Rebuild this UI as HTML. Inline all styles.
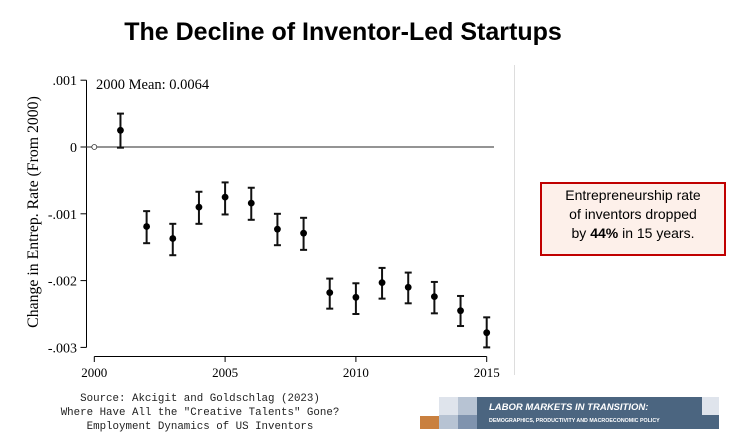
<!DOCTYPE html>
<html><head><meta charset="utf-8"><style>
body{margin:0;width:734px;height:443px;background:#fff;overflow:hidden;position:relative;font-family:"Liberation Sans",sans-serif}
.abs{position:absolute}
</style></head><body>
<div class="abs" style="left:0;width:686px;top:18px;text-align:center;font-weight:bold;font-size:25px;color:#000">The Decline of Inventor-Led Startups</div>
<div class="abs" style="left:514px;top:65px;width:1px;height:310px;background:#ddd"></div>
<div class="abs" style="left:540px;top:182px;width:182px;height:68px;border:2px solid #c00000;background:#fdf0ea;font-size:14px;line-height:19px;text-align:center;padding-top:2px;box-sizing:content-box">Entrepreneurship rate<br>of inventors dropped<br>by <b>44%</b> in 15 years.</div>
<svg class="abs" style="left:0;top:0" width="734" height="443" id="chart"></svg>
<div class="abs" style="left:40px;width:320px;top:392px;text-align:center;font-family:'Liberation Mono',monospace;font-size:10.8px;line-height:14px;color:#222">Source: Akcigit and Goldschlag (2023)<br>Where Have All the "Creative Talents" Gone?<br>Employment Dynamics of US Inventors</div>
<div class="abs" style="left:420px;top:397px;width:299px;height:32px">
<div class="abs" style="left:0;top:19px;width:19px;height:13px;background:#c9803f"></div>
<div class="abs" style="left:19px;top:0;width:19px;height:18px;background:#dfe4ec"></div>
<div class="abs" style="left:19px;top:18px;width:19px;height:14px;background:#b7c3d3"></div>
<div class="abs" style="left:38px;top:0;width:19px;height:18px;background:#b7c3d3"></div>
<div class="abs" style="left:38px;top:18px;width:19px;height:14px;background:#7f93ae"></div>
<div class="abs" style="left:57px;top:0;width:242px;height:32px;background:#4b6580"></div>
<div class="abs" style="left:282px;top:0;width:17px;height:18px;background:#dfe4ec"></div>
<div class="abs" style="left:69px;top:5px;color:#fff;font-weight:bold;font-style:italic;font-size:9.5px">LABOR MARKETS IN TRANSITION:</div>
<div class="abs" style="left:69px;top:21px;color:#fff;font-weight:bold;font-size:5.3px">DEMOGRAPHICS, PRODUCTIVITY AND MACROECONOMIC POLICY</div>
</div>
<script>
const years=[2001,2002,2003,2004,2005,2006,2007,2008,2009,2010,2011,2012,2013,2014,2015];
const estimates=[0.00025,-0.00119,-0.00137,-0.0009,-0.00075,-0.00084,-0.00123,-0.00129,-0.00218,-0.00225,-0.00203,-0.0021,-0.00224,-0.00245,-0.00278];
const ciHigh=[0.0005,-0.00096,-0.00115,-0.00067,-0.00053,-0.00061,-0.001,-0.00106,-0.00197,-0.00204,-0.00181,-0.00188,-0.00202,-0.00223,-0.00255];
const ciLow=[-0.00001,-0.00144,-0.00162,-0.00115,-0.00101,-0.00109,-0.00147,-0.00154,-0.00242,-0.0025,-0.00227,-0.00234,-0.00249,-0.00268,-0.003];
const yTicks=[0.001,0,-0.001,-0.002,-0.003];
const yTickLabels=[".001","0","-.001","-.002","-.003"];
const xTicks=[2000,2005,2010,2015];
const svg=document.getElementById('chart');
const NS='http://www.w3.org/2000/svg';
const xS=v=>94.3+(v-2000)*26.16;
const yS=v=>147-v*66.8/0.001;
function mk(t,a,p){const e=document.createElementNS(NS,t);for(const k in a)e.setAttribute(k,a[k]);(p||svg).appendChild(e);return e;}
const ff='"Liberation Serif",serif';
let e=mk('line',{x1:86.5,x2:86.5,y1:yS(0.001),y2:yS(-0.003),stroke:'#000','stroke-width':1});

e=mk('line',{x1:xS(2000),x2:xS(2015),y1:356.5,y2:356.5,stroke:'#000','stroke-width':1});

yTicks.forEach((v,i)=>{
 mk('line',{x1:80.5,x2:86.5,y1:yS(v),y2:yS(v),stroke:'#000'});
 const t=mk('text',{x:77,y:yS(v)+5,'text-anchor':'end','font-family':ff,'font-size':14});
 t.textContent=yTickLabels[i];
 
});
xTicks.forEach(v=>{
 mk('line',{x1:xS(v),x2:xS(v),y1:356.5,y2:362,stroke:'#000'});
 const t=mk('text',{x:xS(v),y:377,'text-anchor':'middle','font-family':ff,'font-size':13});
 t.textContent=v;
 
});
e=mk('text',{x:0,y:0,transform:'translate(38,212) rotate(-90)','text-anchor':'middle','font-family':ff,'font-size':15.8});
e.textContent='Change in Entrep. Rate (From 2000)';

e=mk('text',{x:96,y:89,'font-family':ff,'font-size':14.5});
e.textContent='2000 Mean: 0.0064';

e=mk('line',{x1:86.5,x2:494,y1:yS(0),y2:yS(0),stroke:'#555','stroke-width':1.3});

e=mk('circle',{cx:xS(2000),cy:yS(0),r:2.5,fill:'#fff',stroke:'#333','stroke-width':0.8});

years.forEach((y,i)=>{
 const g=mk('g',{});
 
 const x=xS(y);
 mk('line',{x1:x,x2:x,y1:yS(ciHigh[i]),y2:yS(ciLow[i]),stroke:'#111','stroke-width':2},g);
 mk('line',{x1:x-3.5,x2:x+3.5,y1:yS(ciHigh[i]),y2:yS(ciHigh[i]),stroke:'#111','stroke-width':2},g);
 mk('line',{x1:x-3.5,x2:x+3.5,y1:yS(ciLow[i]),y2:yS(ciLow[i]),stroke:'#111','stroke-width':2},g);
 mk('circle',{cx:x,cy:yS(estimates[i]),r:3.4,fill:'#000'},g);
});
</script>
</body></html>
